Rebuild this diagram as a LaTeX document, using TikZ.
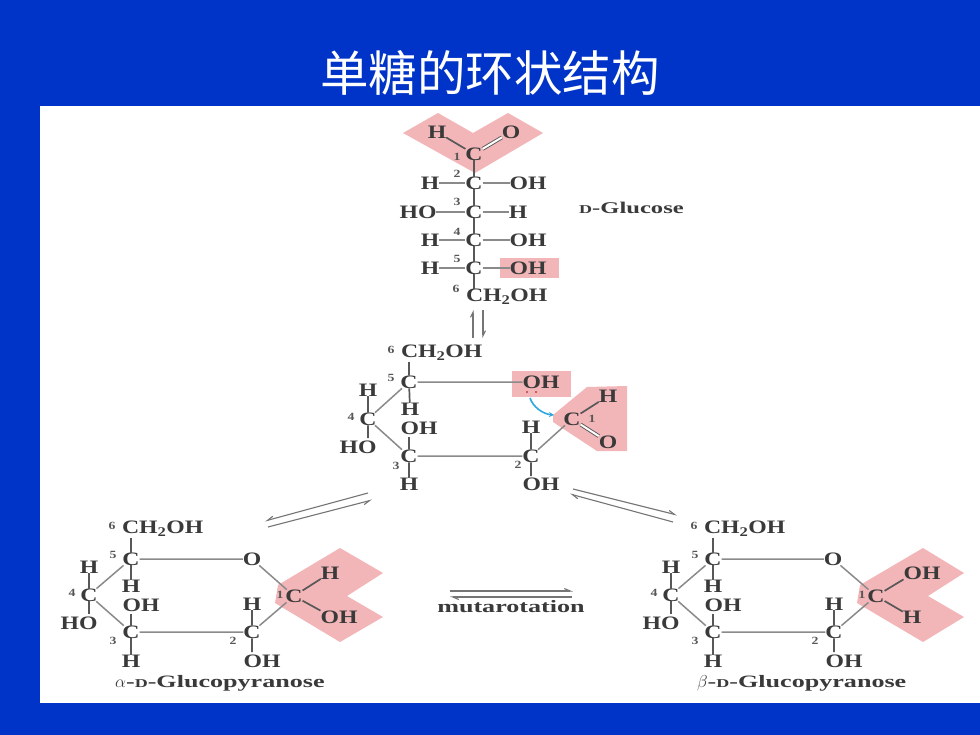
\documentclass[tikz,border=0pt]{standalone}
\usepackage{fontspec}
\setmainfont[FakeStretch=1.25]{Liberation Serif}
\newfontfamily\capfont[FakeStretch=1.5]{Liberation Serif}
\newfontfamily\cjk{Noto Sans CJK SC}
\usetikzlibrary{arrows.meta}
\definecolor{bgblue}{HTML}{0033C8}
\definecolor{pinkhl}{HTML}{F3B6B8}
\definecolor{ink}{HTML}{3A3A3A}
\definecolor{bondgray}{HTML}{8A8A8A}
\definecolor{arrowblue}{HTML}{2BA8E0}
\newcommand{\smD}{{\fontsize{12}{12}\selectfont D}}
\tikzset{
  x=1pt,y=-1pt,
  atom/.style={inner sep=0pt,outer sep=0pt,text=ink,font=\fontsize{19}{19}\selectfont\bfseries},
  num/.style={inner sep=0pt,text=ink!85,font=\fontsize{11}{10}\selectfont\bfseries},
  captext/.style={inner sep=0pt,text=ink,font=\capfont\fontsize{17.4}{17}\selectfont\bfseries},
  bond/.style={draw=bondgray,line width=1.5pt},
  strong/.style={draw=ink!85,line width=1.7pt},
  eqarrow/.style={draw=ink!70,line width=1.1pt},
  hl/.style={fill=pinkhl,draw=none},
}
\begin{document}
\begin{tikzpicture}
\useasboundingbox (0,0) rectangle (980,735);
\fill[bgblue] (0,0) rectangle (980,735);
\fill[white] (40,106) rectangle (980,703);
\node[inner sep=0pt,text=white,font=\cjk\fontsize{48.5}{48}\selectfont] (title) at (490,73) {单糖的环状结构};

% highlights
\fill[hl] (438,113)--(473,133)--(508,113)--(543,133)--(475,173)--(403,133)--cycle;
\fill[hl] (500,258) rectangle (559,278);
\fill[hl] (512,371) rectangle (571,397);
\fill[hl] (587,387)--(627,386)--(627,451)--(597,451)--(553,422)--(553,415)--cycle;
\fill[hl] (340,548)--(383,573)--(347,596)--(383,617)--(340,642)--(275,603)--(278,585)--cycle;
\fill[hl] (923,548)--(964,573)--(928,596)--(964,617)--(923,642)--(857,603)--(860,585)--cycle;

% D-glucose
\node[atom] (gc1) at (474,154) {C};
\node[atom] (gh1) at (437,132) {H};
\node[atom] (go1) at (511,132) {O};
\node[num] (gn1) at (457,157) {1};
\node[atom] (gc2) at (474,183) {C};
\node[atom] (gh2) at (430,183) {H};
\node[atom] (gx2) at (528,183) {OH};
\node[num] (gn2) at (457,174) {2};
\node[atom] (gc3) at (474,212) {C};
\node[atom] (gx3) at (418,212) {HO};
\node[atom] (gh3) at (518,212) {H};
\node[num] (gn3) at (457,202) {3};
\node[atom] (gc4) at (474,240) {C};
\node[atom] (gh4) at (430,240) {H};
\node[atom] (gx4) at (528,240) {OH};
\node[num] (gn4) at (457,232) {4};
\node[atom] (gc5) at (474,268) {C};
\node[atom] (gh5) at (430,268) {H};
\node[atom] (gx5) at (528,268) {OH};
\node[num] (gn5) at (457,259) {5};
\node[atom,anchor=west] (gc6) at (466,297) {CH\textsubscript{2}OH};
\coordinate (gc6t) at (474,289);
\node[num] (gn6) at (456,289) {6};
\node[captext,anchor=west,font=\capfont\fontsize{16.4}{16}\selectfont\bfseries] (gname) at (579,208) {\smD-Glucose};
\draw[strong] (gc1)--(gh1);
\draw[strong,double,double distance=2pt,line width=.9pt] (gc1)--(go1);
\draw[strong] (gc1)--(gc2) (gc2)--(gc3) (gc3)--(gc4) (gc4)--(gc5) (gc5)--(gc6t);
\draw[bond] (gh2)--(gc2) (gc2)--(gx2) (gx3)--(gc3) (gc3)--(gh3) (gh4)--(gc4) (gc4)--(gx4) (gh5)--(gc5) (gc5)--(gx5);
\coordinate (eqa) at (473,338); \coordinate (eqb) at (473,310);
\coordinate (eqc) at (483,310); \coordinate (eqd) at (483,338);
\draw[eqarrow,-{Straight Barb[left,length=5pt,width=5pt]}] (eqa)--(eqb);
\draw[eqarrow,-{Straight Barb[left,length=5pt,width=5pt]}] (eqc)--(eqd);

% open ring intermediate
\node[atom,anchor=west] (mc6) at (401,353) {CH\textsubscript{2}OH};
\node[num] (mn6) at (391,350) {6};
\node[atom] (mc5) at (409,382) {C};
\node[num] (mn5) at (391,378) {5};
\node[atom] (mo) at (541,382) {OH};
\node[atom] (mh4) at (368,390) {H};
\node[atom] (mc4) at (368,419) {C};
\node[num] (mn4) at (351,417) {4};
\node[atom] (mx4) at (358,447) {HO};
\node[atom] (mh5) at (410,409) {H};
\node[atom] (mx3) at (419,428) {OH};
\node[atom] (mc3) at (409,456) {C};
\node[num] (mn3) at (396,466) {3};
\node[atom] (mh3) at (409,484) {H};
\node[atom] (mc2) at (531,456) {C};
\node[num] (mn2) at (518,465) {2};
\node[atom] (mh2) at (531,427) {H};
\node[atom] (mx2) at (541,484) {OH};
\node[atom] (mc1) at (572,419) {C};
\node[num] (mn1) at (592,419) {1};
\node[atom] (mh1) at (608,396) {H};
\node[atom] (mo1) at (608,442) {O};
\coordinate (mc6b) at (409,362);
\coordinate (mx3b) at (409,437);
\coordinate (mx4t) at (368,438);
\coordinate (mx2t) at (531,476);
\draw[strong] (mc6b)--(mc5) (mc5)--(mh5) (mh4)--(mc4) (mc4)--(mx4t) (mx3b)--(mc3) (mc3)--(mh3);
\draw[strong] (mh2)--(mc2) (mc2)--(mx2t) (mc1)--(mh1);
\draw[strong,double,double distance=2pt,line width=.9pt] (mc1)--(mo1);
\draw[bond] (mc5)--(mo) (mc5)--(mc4) (mc4)--(mc3) (mc3)--(mc2) (mc2)--(mc1);
\coordinate (mda) at (530,398); \coordinate (mdb) at (554,415);
\draw[draw=arrowblue,line width=1.6pt,-{Stealth[length=5pt,width=5pt]}] (mda) .. controls (533,407) and (543,414) .. (mdb);
\fill[red!70!black] (527,392) circle (.9pt) (536,392) circle (.9pt);

% alpha
\node[atom,anchor=west] (ac6) at (122,529) {CH\textsubscript{2}OH};
\node[num] (an6) at (112,526) {6};
\node[atom] (ac5) at (131,559) {C};
\node[num] (an5) at (113,555) {5};
\node[atom] (ao) at (252,559) {O};
\node[atom] (ah4) at (89,567) {H};
\node[atom] (ac4) at (89,595) {C};
\node[num] (an4) at (72,593) {4};
\node[atom] (ax4) at (79,623) {HO};
\node[atom] (ah5) at (131,586) {H};
\node[atom] (ax3) at (141,605) {OH};
\node[atom] (ac3) at (131,632) {C};
\node[num] (an3) at (113,641) {3};
\node[atom] (ah3) at (131,661) {H};
\node[atom] (ac2) at (252,632) {C};
\node[num] (an2) at (233,641) {2};
\node[atom] (ah2) at (252,604) {H};
\node[atom] (ax2) at (262,661) {OH};
\node[atom] (ac1) at (294,596) {C};
\node[num] (an1) at (280,595) {1};
\node[atom] (ah1) at (330,573) {H};
\node[atom] (ax1) at (339,617) {OH};
\coordinate (ac6b) at (131,538);
\coordinate (ax3b) at (131,614);
\coordinate (ax4t) at (89,614);
\coordinate (ax2t) at (252,652);
\draw[strong] (ac6b)--(ac5) (ac5)--(ah5) (ah4)--(ac4) (ac4)--(ax4t) (ax3b)--(ac3) (ac3)--(ah3);
\draw[strong] (ah2)--(ac2) (ac2)--(ax2t) (ac1)--(ah1) (ac1)--(ax1.north west);
\draw[bond] (ac5)--(ao) (ao)--(ac1) (ac5)--(ac4) (ac4)--(ac3) (ac3)--(ac2) (ac2)--(ac1);
\node[captext,anchor=west] (aname) at (115,683) {$\alpha$-\smD-Glucopyranose};

% beta
\node[atom,anchor=west] (bc6) at (704,529) {CH\textsubscript{2}OH};
\node[num] (bn6) at (694,526) {6};
\node[atom] (bc5) at (713,559) {C};
\node[num] (bn5) at (695,555) {5};
\node[atom] (bo) at (833,559) {O};
\node[atom] (bh4) at (671,567) {H};
\node[atom] (bc4) at (671,595) {C};
\node[num] (bn4) at (654,593) {4};
\node[atom] (bx4) at (661,623) {HO};
\node[atom] (bh5) at (713,586) {H};
\node[atom] (bx3) at (723,605) {OH};
\node[atom] (bc3) at (713,632) {C};
\node[num] (bn3) at (695,641) {3};
\node[atom] (bh3) at (713,661) {H};
\node[atom] (bc2) at (834,632) {C};
\node[num] (bn2) at (815,641) {2};
\node[atom] (bh2) at (834,604) {H};
\node[atom] (bx2) at (844,661) {OH};
\node[atom] (bc1) at (876,596) {C};
\node[num] (bn1) at (862,595) {1};
\node[atom] (bx1) at (922,573) {OH};
\node[atom] (bh1) at (912,617) {H};
\coordinate (bc6b) at (713,538);
\coordinate (bx3b) at (713,614);
\coordinate (bx4t) at (671,614);
\coordinate (bx2t) at (834,652);
\draw[strong] (bc6b)--(bc5) (bc5)--(bh5) (bh4)--(bc4) (bc4)--(bx4t) (bx3b)--(bc3) (bc3)--(bh3);
\draw[strong] (bh2)--(bc2) (bc2)--(bx2t) (bc1)--(bx1.south west) (bc1)--(bh1);
\draw[bond] (bc5)--(bo) (bo)--(bc1) (bc5)--(bc4) (bc4)--(bc3) (bc3)--(bc2) (bc2)--(bc1);
\node[captext,anchor=west] (bname) at (697,683) {$\beta$-\smD-Glucopyranose};

% mutarotation
\node[captext] (mut) at (511,607) {mutarotation};
\coordinate (ma) at (450,591); \coordinate (mb) at (573,591);
\coordinate (mc) at (572,597); \coordinate (md) at (450,597);
\draw[eqarrow,-{Straight Barb[left,length=6pt,width=5pt]}] (ma)--(mb);
\draw[eqarrow,-{Straight Barb[left,length=6pt,width=5pt]}] (mc)--(md);

% equilibrium left
\coordinate (la) at (368,493); \coordinate (lb) at (265,521);
\coordinate (lc) at (268,527); \coordinate (ld) at (372,500);
\draw[eqarrow,-{Straight Barb[right,length=6pt,width=5pt]}] (la)--(lb);
\draw[eqarrow,-{Straight Barb[right,length=6pt,width=5pt]}] (lc)--(ld);
% equilibrium right
\coordinate (ra) at (573,489); \coordinate (rb) at (677,515);
\coordinate (rc) at (673,522); \coordinate (rd) at (570,494);
\draw[eqarrow,-{Straight Barb[left,length=6pt,width=5pt]}] (ra)--(rb);
\draw[eqarrow,-{Straight Barb[left,length=6pt,width=5pt]}] (rc)--(rd);
\end{tikzpicture}
\end{document}
